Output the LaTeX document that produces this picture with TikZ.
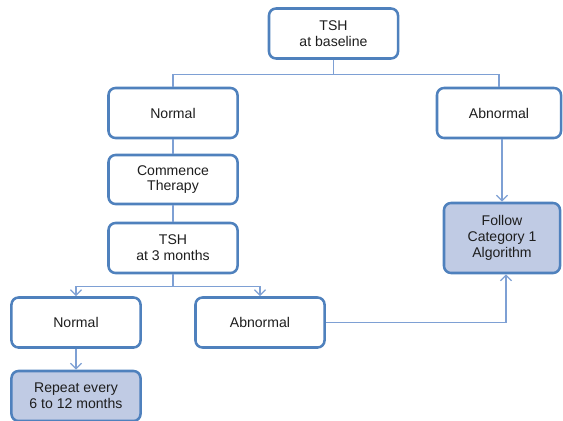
\documentclass[tikz,border=0pt]{standalone}
\usepackage{fontspec}
\setmainfont{Liberation Sans}
\usetikzlibrary{arrows.meta, positioning}
\definecolor{boxblue}{RGB}{79,129,189}
\definecolor{lineblue}{RGB}{126,160,212}
\definecolor{fillblue}{RGB}{192,203,228}
\definecolor{textgray}{RGB}{30,30,30}

\begin{document}
\begin{tikzpicture}[
    x=0.025cm, y=-0.025cm,
    font=\fontsize{10}{11.2}\selectfont,
    stage/.style={rectangle, draw=boxblue, line width=1.8pt, rounded corners=5pt,
                  fill=white, text=textgray, align=center,
                  minimum width=3.225cm, minimum height=1.25cm},
    result/.style={stage, fill=fillblue},
    link/.style={lineblue, line width=0.9pt},
    flow/.style={link, -{Straight Barb[length=4pt, width=8pt]}}
]
\useasboundingbox (0,0) rectangle (563,420);

% Baseline test
\node[stage] (tsh0) at (333.5, 33.5) {TSH\\at baseline};
\node[stage] (norm1) at (173, 113) {Normal};
\node[stage, minimum width=3.1cm] (abn1) at (499, 113) {Abnormal};

% Normal branch
\node[stage, minimum height=1.225cm] (ther) at (173, 179.5) {Commence\\Therapy};
\node[stage] (tsh3) at (173, 248) {TSH\\at 3 months};
\node[stage] (norm2) at (76, 322.5) {Normal};
\node[stage] (abn2) at (260, 322.5) {Abnormal};

% Outcomes
\node[result, minimum width=2.9cm, minimum height=1.75cm] (cat1) at (502, 238)
    {Follow\\Category 1\\Algorithm};
\node[result] (rept) at (76, 396) {Repeat every\\6 to 12 months};

% Connectors
\draw[link] (tsh0.south) -- ++(0, 15) -| (norm1.north);
\draw[link] (tsh0.south) -- ++(0, 15) -| (abn1.north);
\draw[link] (norm1) -- (ther);
\draw[link] (ther) -- (tsh3);
\draw[flow] (abn1.south -| cat1.north) -- (cat1.north);
\draw[flow] (tsh3.south) -- ++(0, 12) -| (norm2.north);
\draw[flow] (tsh3.south) -- ++(0, 12) -| (abn2.north);
\draw[flow] (norm2) -- (rept);
\draw[flow] (abn2.east) -| ([xshift=0.1cm]cat1.south);

\end{tikzpicture}
\end{document}
